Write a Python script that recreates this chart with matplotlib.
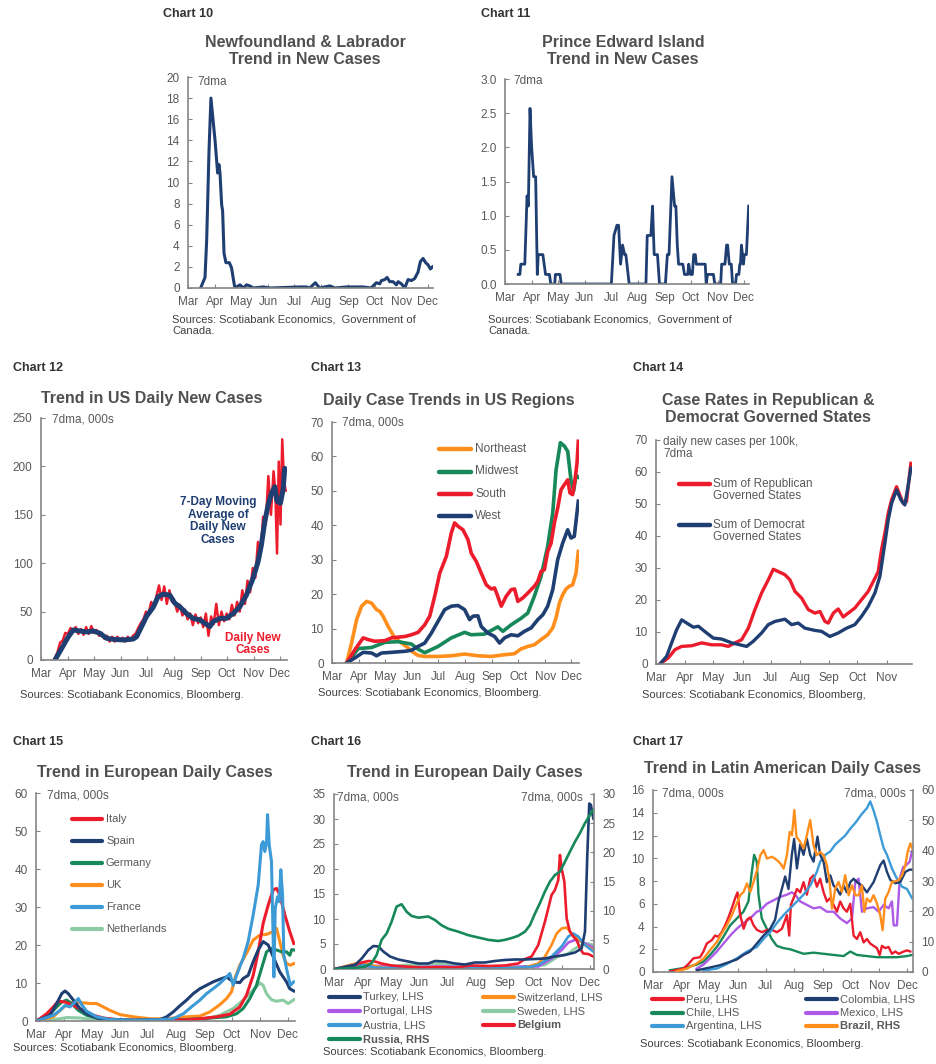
import matplotlib
matplotlib.use('Agg')
import matplotlib.pyplot as plt
from matplotlib.lines import Line2D
import numpy as np

W, H = 936, 1064
plt.rcParams['font.family'] = ['Liberation Sans', 'DejaVu Sans']

# ---------------- common axis data ----------------
MONTH_DAYS = [0, 31, 61, 92, 122, 153, 184, 214, 245, 275]   # days since Mar 1, 2020
MONTH_LABELS = ['Mar', 'Apr', 'May', 'Jun', 'Jul', 'Aug', 'Sep', 'Oct', 'Nov', 'Dec']

# ---------------- Chart 10: Newfoundland & Labrador ----------------
NL_days = [14.5, 19.5, 21.4, 24.1, 26.3, 31, 34, 35.5, 36.7, 38.6, 39.7, 41.3, 43.5, 47.4, 50, 51.9, 53.8,
           59.6, 63.4, 67.2, 71, 74.8, 86.3, 94, 128, 136, 139.7, 146, 151, 162.7, 168.4, 181.7, 200.8, 210,
           216, 220, 221.8, 225.7, 228.3, 231.4, 235.2, 239, 241, 244.7, 248.6, 252.4, 256.2, 260, 263.8,
           266.5, 269.6, 272.6, 275.3, 278, 280.3]
NL_vals = [0, 1, 4.5, 13, 18, 14, 10.9, 11.7, 10.9, 7.9, 7.3, 3.3, 2.4, 2.4, 1.9, 0.9, 0,
           0.3, 0, 0.3, 0.2, 0, 0.1, 0, 0.1, 0.1, 0, 0.5, 0, 0.2, 0, 0.1, 0.1, 0,
           0.5, 0.4, 0.7, 0.8, 1.0, 0.6, 0.6, 0.3, 0.6, 0.4, 0, 0.8, 0.7, 0.9, 1.5,
           2.5, 2.8, 2.4, 2.2, 1.8, 2.0]

# ---------------- Chart 11: Prince Edward Island ----------------
PEI_days = [15.2, 17.1, 18.2, 22.8, 25.4, 26.9, 28.8, 30.7, 33, 35.3, 37.2, 38.3, 43.6, 46.7, 51.2, 52.7,
            57.3, 58, 63.3, 64.8, 122.5, 125.5, 128.9, 130.8, 133.1, 135.4, 137.7, 139.2, 143, 162.3,
            163.8, 168, 169.9, 171.8, 175.6, 177.9, 184.7, 187, 188.9, 192.3, 195.3, 196.8, 198.4, 199.9,
            204.8, 206.7, 210.5, 211.6, 213.5, 215.8, 217.3, 219.2, 220.3, 230.6, 231.7, 233.2, 240, 241.6,
            248.4, 249.5, 253.3, 255.2, 256.4, 258.3, 260.6, 262.1, 265.5, 266.6, 269.3, 270.4, 271.2,
            272.3, 273.5, 274.6, 275.7, 278, 280.6]
PEI_vals = [0.14, 0.14, 0.29, 0.29, 1.29, 1.14, 2.57, 2.0, 1.57, 1.57, 0.14, 0.43, 0.43, 0.14, 0.14, 0,
            0, 0.14, 0.14, 0, 0, 0.71, 0.86, 0.86, 0.29, 0.57, 0.43, 0.43, 0, 0,
            0.71, 0.71, 1.14, 0.43, 0.43, 0, 0, 0.43, 0.43, 1.57, 1.14, 1.14, 0.57, 0.29,
            0.29, 0.14, 0.14, 0.29, 0.14, 0.14, 0.43, 0.43, 0.29, 0.29, 0, 0.14, 0.14, 0,
            0, 0.29, 0.29, 0.57, 0.57, 0.29, 0.29, 0, 0, 0.14, 0.14, 0.29, 0.29,
            0.57, 0.43, 0.29, 0.43, 0.43, 1.14]

# ---------------- Chart 12: US daily new cases (000s) ----------------
US_daily_days = [16, 19, 22, 25, 28, 31, 34, 37, 40, 43, 46, 49, 52, 55, 58, 61, 64, 67, 70, 73, 76, 79, 82,
                 85, 88, 91, 94, 97, 100, 103, 106, 109, 112, 115, 118, 121, 124, 127, 130, 133, 136, 139,
                 142, 145, 148, 151, 154, 157, 160, 163, 166, 169, 172, 175, 178, 181, 184, 187, 190, 193,
                 196, 199, 202, 205, 208, 211, 214, 217, 220, 223, 226, 229, 232, 235, 238, 241, 244, 247,
                 250, 253, 256, 259, 262, 265, 268, 270, 272, 274, 276, 278, 280, 282]
US_daily_vals = [2, 8, 18, 20, 28, 27, 33, 30, 34, 27, 32, 26, 34, 27, 35, 28, 31, 25, 28, 22, 25, 19, 24,
                 19, 24, 20, 23, 19, 24, 20, 25, 27, 33, 38, 42, 50, 48, 60, 55, 66, 77, 62,
                 76, 58, 72, 60, 60, 50, 57, 46, 52, 42, 48, 36, 47, 38, 44, 34, 48, 25,
                 45, 37, 58, 36, 50, 40, 48, 42, 57, 46, 60, 50, 72, 58, 82, 70, 95, 85,
                 122, 110, 148, 140, 190, 150, 195, 175, 110, 205, 140, 228, 185, 175]
US_ma_days = [16.1, 23.8, 31.5, 37.2, 44.9, 52.6, 60.2, 67.9, 75.6, 83.3, 94.8, 106.3, 110.1, 114, 121.6,
              129.3, 135, 140.8, 148.5, 154.3, 160, 167.7, 175.4, 183.1, 188.8, 194.6, 198.4, 206.1, 213.7,
              221.4, 229.1, 236.7, 244.4, 250.2, 254, 257.9, 261.7, 265.5, 269.4, 272, 275.9, 279, 280.9]
US_ma_vals = [0, 12, 24, 31, 30, 29, 30, 27.6, 22.4, 21.4, 20.7, 21.7, 24, 31, 45,
              54.5, 65.5, 68, 67, 58.6, 55, 48, 43, 41.4, 38, 34.5, 39.7, 43, 43,
              48, 55, 67, 84.5, 101.7, 119, 143, 160, 172, 179, 164, 162, 176, 198]

# ---------------- Chart 13: US regions (000s) ----------------
NE_days = [16.8, 22.5, 28.3, 34, 39.8, 45.5, 51.2, 55, 58.9, 64.6, 72.2, 79.9, 87.5, 93.3, 99, 106.6, 121.9,
           137.2, 152.5, 167.8, 183.1, 198.4, 209.8, 217.4, 225.1, 232.7, 240.4, 248, 253.8, 257.6, 261.4,
           265.2, 269.1, 272.9, 276.7, 280.5, 283.2]
NE_vals = [0, 5.8, 12.6, 16.5, 17.9, 17.4, 15.5, 15, 13.5, 10.6, 7.3, 5.8, 4.4, 3.1, 2.2, 1.9, 1.9,
           2.1, 2.6, 2.1, 1.9, 2.4, 2.7, 4.1, 4.8, 5.3, 6.8, 8.2, 10.2, 13.1, 17.4,
           19.8, 21.5, 22.3, 22.7, 26, 32.4]
MW_days = [16.8, 25, 30.2, 45.5, 60.8, 76, 91.3, 99, 106.6, 121.9, 137.2, 152.5, 160.1, 175.4, 190.7, 196.5,
           206, 217.5, 225.1, 232.7, 240.4, 248, 253.8, 257.6, 262.6, 267.2, 271, 274.8, 277.9, 280.5, 283.2]
MW_vals = [0, 2.5, 4.2, 4.5, 6, 6.2, 5.5, 4, 3, 4.8, 7.3, 8.9, 8.2, 8.4, 10.5, 9.2,
           11.1, 13, 14.5, 19.4, 25.2, 33.9, 43.6, 56, 64, 63, 61.5, 53, 50, 54.5, 54]
SO_days = [16.8, 26.4, 35.9, 41.6, 49.3, 60.8, 68.4, 83.7, 91.3, 99, 106.6, 112.4, 118.1, 123.9, 131.5, 137.2,
           141, 144.9, 150.6, 156.4, 160.1, 165.9, 171.6, 177.4, 183.1, 186.9, 190, 194.6, 200.3, 206, 209.9,
           213.7, 219.4, 225.1, 232.7, 236.6, 240.4, 244.2, 248, 251.9, 255.7, 259.5, 263.3, 267.2, 271,
           273.6, 276.7, 279.4, 281.7, 283.2]
SO_vals = [0, 3.9, 7.3, 6.8, 6.3, 6.5, 7.3, 7.7, 8.2, 8.9, 11.1, 13.6, 19.4, 26.1, 31, 37.8,
           40.7, 39.7, 38.7, 35.8, 31.9, 29.5, 26.1, 22.7, 21.5, 21.8, 19.8, 16.5, 19.4, 21.3, 21.5,
           17.9, 18.9, 20.3, 22.3, 23.7, 26.6, 27.1, 32.4, 34.8, 40.7, 45, 50.3, 51.8, 53.2,
           49.4, 48.9, 53.2, 58, 64.4]
WE_days = [16.8, 26.4, 35.9, 45.5, 51.2, 57, 68.4, 83.7, 91.3, 99, 106.6, 114.3, 121.9, 129.6, 137.2, 144.9,
           152.5, 158.2, 162.1, 167.8, 171.6, 179.3, 186.9, 192.7, 198.4, 206, 213.7, 221.3, 229, 236.6,
           242.4, 248, 253.8, 259.5, 265.2, 271, 274.8, 278.6, 283.2]
WE_vals = [0, 1.5, 3.1, 2.9, 2.1, 2.9, 3.1, 3.4, 3.7, 4.8, 5.8, 8.7, 12.1, 15.5, 16.5, 16.7,
           15.5, 12.6, 13.6, 13.7, 10.6, 8.7, 7.7, 5.8, 7.3, 8.2, 7.9, 9.2, 10.2, 12.6,
           14, 16.5, 21.3, 30, 34.8, 38.7, 36.3, 36.8, 47]

# ---------------- Chart 14: Republican vs Democrat governed states ----------------
REP_days = [4.2, 13.1, 20.2, 27.3, 37.9, 48.5, 59.1, 69.7, 76.8, 83.9, 91, 98.1, 105.1, 112.2, 119.3, 124.6,
            129.9, 137, 142.3, 147.6, 154.7, 161.8, 168.8, 174.2, 179.5, 183, 188.4, 193.6, 198.9, 204.2,
            211.3, 218.4, 225.5, 232.6, 236.1, 239.6, 243.2, 246.7, 250.3, 255.6, 259.1, 262.6, 266.2,
            268.7, 270.8]
REP_vals = [0, 1.9, 4.5, 5.5, 5.7, 6.6, 6, 6, 5.5, 6.6, 7.6, 11.2, 17, 22.2, 26.3, 29.6,
            28.9, 27.9, 26.3, 22.7, 20.6, 17, 15.9, 16.4, 13.3, 12.8, 15.9, 17.2, 14.7, 15.9,
            17.5, 20.1, 22.7, 26.8, 28.9, 35.7, 40.9, 47.1, 51.3, 55.4, 52.8, 50.2, 50.8,
            57.5, 62.7]
DEM_days = [4.2, 11.3, 16.6, 21.9, 27.3, 32.6, 39.7, 45, 53.8, 60.9, 69.7, 80.4, 89.2, 96.3, 103.4, 112.2,
            119.3, 126.4, 137, 144.1, 151.1, 158.2, 168.8, 175.9, 184.7, 193.6, 202.5, 211.3, 218.4, 225.5,
            232.6, 237.9, 243.2, 246.7, 250.3, 255.6, 260.2, 264.4, 267.2, 270.8]
DEM_vals = [0, 2.4, 6.6, 10.7, 13.8, 12.8, 11.5, 11.8, 9.7, 8.1, 7.8, 6.6, 6, 5.5, 7.1, 9.7,
            12.3, 13.3, 14, 12.3, 12.8, 11.2, 10.5, 10.2, 8.6, 9.7, 11.2, 12.3, 14.9, 18,
            22.2, 27.4, 37.8, 45, 50.2, 54.4, 51.3, 49.7, 54.4, 61.2]

# ---------------- Chart 15: European daily cases (000s) ----------------
IT_days = [0.7, 11.6, 18.9, 24.4, 31.7, 40.8, 51.7, 62.6, 73.5, 88.1, 106.3, 142.7, 164.5, 179.1, 197.3,
           211.8, 222.7, 230, 237.3, 242.8, 248.2, 253.7, 259.2, 262.8, 266.4, 271.9, 277.3, 281.7]
IT_vals = [0, 1.9, 3.7, 5.2, 5, 4.1, 2.8, 1.5, 0.8, 0.35, 0.2, 0.2, 0.35, 0.6, 1.1,
           1.8, 3.7, 6.8, 12, 18.2, 25.7, 30.5, 34.5, 34.9, 33.2, 27.9, 23.5, 20.4]
ES_days = [0.7, 15.3, 22.6, 28.1, 31.7, 35.3, 40.8, 48, 55.3, 66.2, 80.8, 106.3, 135.4, 142.7, 150, 157.2,
           164.5, 171.8, 179.1, 186.3, 193.6, 200.9, 208.2, 215.5, 222.7, 226.4, 231.8, 237.3, 242.8,
           248.2, 253.7, 259.2, 266.4, 273.7, 277.3, 281.7]
ES_vals = [0, 1.5, 4.6, 7.2, 7.9, 7.2, 5.5, 3.3, 1.9, 0.8, 0.35, 0.2, 0.35, 1.1, 2.4, 4,
           5.5, 7.2, 8.5, 9.4, 10.3, 11, 11.6, 10.3, 10.1, 11.2, 12, 15.6, 18.7,
           20.9, 20, 16.9, 12.9, 10.3, 8.5, 7.9]
DE_days = [0.7, 15.3, 22.6, 28.1, 33.5, 39, 46.3, 55.3, 69.9, 106.3, 142.7, 164.5, 186.3, 208.2, 219.1,
           226.4, 233.6, 240.9, 246.4, 251.9, 257.3, 262.8, 268.3, 273.7, 277.3, 279.5, 281.7]
DE_vals = [0, 1.9, 3.7, 5, 5.5, 4.6, 2.8, 1.5, 0.6, 0.2, 0.3, 0.4, 0.7, 1.1, 1.9,
           3.3, 5.9, 9.4, 13.8, 18.2, 19.1, 18.7, 18.2, 18.2, 17.3, 18.8, 18.7]
UK_days = [0.7, 18.9, 26.2, 33.5, 40.8, 51.7, 59, 66.2, 73.5, 80.8, 91.7, 106.3, 124.5, 142.7, 164.5, 179.1,
           190, 200.9, 208.2, 213.7, 217.3, 222.7, 230, 237.3, 244.6, 251.9, 259.2, 262.8, 266.4, 270,
           273.7, 278, 281.7]
UK_vals = [0, 1.1, 2.8, 4.3, 5, 4.8, 4.6, 4.6, 3.7, 2.8, 1.7, 1.1, 0.6, 0.6, 1.1, 1.3,
           2.4, 4.3, 5.9, 7.7, 11.2, 14.7, 17.8, 21.3, 22.6, 22.8, 23.5, 24.4, 20.9, 17.3,
           15.1, 14.7, 15.1]
FR_days = [0.7, 18.9, 26.2, 31.7, 37.2, 42.6, 46.3, 49.9, 55.3, 66.2, 80.8, 106.3, 135.4, 150, 160.9, 171.8,
           179.1, 186.3, 193.6, 200.9, 208.2, 211.8, 215.5, 219.1, 226.4, 231.8, 237.3, 242.8, 246.4,
           248.2, 250, 251.9, 253, 254.8, 257.3, 259.2, 259.9, 261.4, 263.9, 265.7, 267.5, 269.4, 270.8,
           274.5, 278, 281.7]
FR_vals = [0, 1.5, 2.8, 4.1, 3.7, 5, 5.9, 4.3, 2.6, 1.1, 0.4, 0.2, 0.35, 0.6, 1.9, 4.1,
           5.5, 7.2, 8.5, 9.9, 11.6, 12.5, 9.4, 12, 16.5, 20.9, 27.9, 35.8, 46.4,
           47.2, 44.6, 46.8, 54.3, 46.4, 42, 20.9, 11.6, 29.6, 32.7, 31.4, 39.8, 33.2, 17.3,
           12.9, 9.4, 10.3]
NLD_days = [0.7, 18.9, 33.5, 48, 62.6, 106.3, 164.5, 186.3, 200.9, 215.5, 226.4, 237.3, 244.6, 248.2, 251.9,
            257.3, 262.8, 270, 275.5, 281.7]
NLD_vals = [0, 0.35, 0.9, 0.8, 0.35, 0.1, 0.2, 0.6, 1.5, 3.3, 5.5, 8.1, 10, 9.4, 7.2,
            5.6, 5.2, 5.5, 4.6, 5.6]

# ---------------- Chart 16: European daily cases, LHS/RHS (000s) ----------------
TR_days = [1, 22.6, 29.8, 37, 42.3, 47.7, 53, 60.2, 69.1, 79.9, 90.6, 101.3, 108.5, 119.2, 130, 140.7, 151.5,
           162.2, 172.9, 183.7, 194.4, 205.3, 216, 226.8, 237.5, 248.3, 259, 266.2, 269.8, 272.3, 274.4,
           276.2, 278.7]
TR_vals = [0, 0.8, 2.1, 3.8, 4.6, 4.5, 3.5, 2.5, 1.9, 1.5, 1.1, 1.1, 1.6, 1.5, 1.1, 0.9, 1.3,
           1.3, 1.6, 1.8, 1.9, 1.9, 2, 2.1, 2.5, 2.8, 3.3, 4.1, 7.5, 22.8, 33.1,
           32.8, 30.1]
CH_days = [1, 22.6, 33.3, 44.1, 61.9, 120, 180, 205, 219.6, 226.8, 233.9, 239.3, 244.7, 250.1, 255.4, 262.6,
           269.8, 278.7]
CH_vals = [0, 1.1, 1.1, 0.6, 0.1, 0.05, 0.2, 0.3, 1.1, 2.5, 4.8, 7.1, 8.1, 8.3, 7.1, 6.1,
           4.8, 3.8]
PT_days = [1, 29.8, 58.5, 76.3, 112, 148, 184, 205, 219.6, 233.9, 244.7, 251.9, 259, 266.2, 273.3, 278.7]
PT_vals = [0, 0.5, 0.7, 0.3, 0.5, 0.4, 0.4, 0.5, 0.5, 2.1, 3.8, 5.3, 5.8, 5.5, 4.8, 4.3]
SE_days = [1, 30, 60, 76.3, 101.3, 112, 130, 165.8, 201.7, 226.8, 241.1, 251.9, 259, 266.2, 273.3, 278.7]
SE_vals = [0, 0.2, 0.5, 0.8, 0.9, 1.1, 0.7, 0.3, 0.4, 0.8, 2.5, 3.1, 4.1, 4.8, 5.1, 4.8]
AT_days = [1, 22.6, 33.3, 44.1, 70, 130, 190, 210, 219.6, 233.9, 244.7, 251.9, 257.2, 262.6, 269.8, 278.7]
AT_vals = [0, 0.9, 0.8, 0.3, 0.1, 0.1, 0.2, 0.4, 0.8, 2.5, 4.5, 6.5, 7.1, 6.5, 4.8, 3.5]
BE_days = [1, 22.6, 29.8, 37, 44.1, 51.2, 61.9, 76.3, 94.2, 112, 130, 147.9, 165.8, 183.7, 198.1, 205.3,
           212.4, 219.6, 226.8, 233.9, 237.5, 241.1, 242.9, 244.7, 247.6, 250.1, 253.6, 257.2, 260.8,
           264.4, 268, 273.3, 278.7]
BE_vals = [0, 0.8, 1.3, 1.6, 1.5, 1.1, 0.7, 0.5, 0.3, 0.4, 0.3, 0.7, 0.6, 0.7, 1.1, 2,
           2.5, 4.8, 9.5, 14.8, 15.8, 17.8, 22.8, 20.1, 17.5, 10.1, 7.5, 6.5, 5.8,
           4.1, 3.1, 3, 2.5]
RU_days = [1, 22.6, 33.3, 40.4, 45.8, 51.2, 56.6, 61.9, 67.3, 72.7, 78.1, 83.4, 90.6, 101.3, 108.5, 115.6,
           122.8, 133.6, 144.3, 155.1, 165.8, 176.6, 183.7, 190.9, 198.1, 205.3, 210.6, 216, 221.4, 226.8,
           232.2, 237.5, 242.9, 248.3, 253.6, 259, 264.4, 269.8, 275.1, 278.7]
RU_vals = [0, 0.2, 0.4, 1, 2.4, 5, 6.1, 8.1, 10.7, 11.1, 9.8, 9.1, 8.8, 9, 8.4, 7.5,
           6.9, 6.4, 5.8, 5.4, 5, 4.8, 5, 5.3, 5.7, 6.4, 7.5, 9.5, 11.3, 13.3,
           15, 16.1, 16.7, 18.4, 20.1, 21.8, 23.3, 25, 26.4, 27.3]

# ---------------- Chart 17: Latin American daily cases (000s) ----------------
PE_days = [18.4, 32.9, 38.3, 43.7, 50.9, 54.6, 58.2, 63.6, 67.2, 70.8, 74.4, 78.1, 81.7, 85.3, 89, 91.5,
           94.4, 98.1, 101.7, 105.3, 108.9, 112.6, 118, 123.4, 128.8, 134.2, 139.6, 145, 147.5, 149.3,
           152.2, 155.8, 159.4, 163, 166.6, 170.2, 173.8, 177.4, 181, 184.7, 188.3, 191.9, 195.5, 199.1,
           202.7, 206.3, 209.9, 213.6, 217.2, 220.8, 224.4, 228, 231.6, 235.2, 238.8, 242.5, 245.4,
           247.9, 251.5, 255.1, 258.7, 262.3, 266, 271.4, 275, 278.6]
PE_vals = [0.05, 0.3, 0.7, 1.2, 1.3, 1.8, 2.5, 2.8, 3.2, 3.1, 3.5, 4.1, 4.8, 5.6, 6.5, 7,
           5, 3.8, 4.6, 4.8, 4.1, 3.7, 3.5, 3.7, 3.7, 3.5, 3.8, 5, 3.2, 5.9,
           6.5, 7.3, 7, 7.9, 6.8, 8.2, 8.5, 7.5, 8.2, 7, 6.2, 6.5, 5.9, 5.3,
           6.2, 5.6, 5.3, 6, 3.2, 2.9, 3.5, 2.6, 2.9, 2.5, 2.3, 2.1, 1.5,
           2.3, 2.1, 2.2, 1.6, 1.8, 1.6, 1.8, 1.9, 1.8]
CO_days = [47.3, 61.8, 72.6, 83.5, 90.7, 97.9, 105.1, 112.4, 119.6, 126.8, 132.2, 135.8, 139.5, 143.1, 146.7,
           150.3, 152.8, 155.8, 159.4, 163, 166.6, 170.2, 173.8, 178.1, 181, 184.7, 188.3, 191.9, 195.5,
           199.1, 202.7, 206.3, 209.9, 213.6, 217.2, 220.8, 226.2, 231.6, 238.8, 246.1, 249.7, 253.3,
           256.9, 262.3, 267.7, 273.2, 277.9, 280.4]
CO_vals = [0.15, 0.4, 0.6, 0.9, 1.1, 1.5, 1.8, 2.5, 3.2, 3.8, 4.6, 6.2, 7.3, 8.4, 7.3,
           10.3, 11.7, 9.1, 11.2, 10.3, 11.7, 10.3, 9.7, 11.9, 10.3, 9.7, 7.9, 8.5, 7.6,
           7.3, 6.8, 7.6, 7, 7.9, 8.2, 7.9, 7.6, 7, 7.9, 9.4, 9.8, 8.8,
           8.1, 7.8, 7.9, 8.8, 9, 9]
CL_days = [18.4, 32.9, 47.3, 54.6, 61.8, 69.1, 76.3, 83.5, 90.7, 97.9, 103.3, 107, 109.5, 112.4, 114.2,
           117.8, 123.2, 128.6, 134, 141.3, 148.5, 155.8, 163, 173.8, 184.7, 195.5, 206.3, 213.6, 220.8,
           231.6, 242.5, 253.3, 264.1, 275, 280.4]
CL_vals = [0.15, 0.35, 0.65, 0.9, 1.5, 2.2, 3.1, 4.1, 4.7, 5.3, 6.2, 8.8, 10.3, 9.7, 6.8,
           4.7, 3.8, 2.9, 2.3, 2.1, 2, 1.8, 1.6, 1.7, 1.6, 1.5, 1.4, 1.8, 1.5,
           1.4, 1.3, 1.3, 1.3, 1.4, 1.5]
MX_days = [47.3, 54.6, 61.8, 69.1, 76.3, 83.5, 90.7, 97.9, 105.1, 112.4, 116, 123.2, 130.4, 137.7, 145, 150.3,
           154, 159.4, 166.6, 173.8, 181, 188.3, 195.5, 202.7, 209.9, 215.4, 219, 222.6, 226.2, 231.6,
           238.8, 244.3, 249.7, 255.1, 258.7, 260.6, 264.1, 267.1, 270.7, 274.3, 277.9, 280.4]
MX_vals = [0.3, 0.65, 1.2, 1.8, 2.5, 3.2, 3.8, 4.3, 4.7, 5.3, 5.4, 6, 6.3, 6.6, 6.8, 7,
           6.8, 6.2, 5.9, 5.6, 5.7, 5.3, 5.3, 4.7, 4.3, 4.7, 7.9, 8.2, 5.3, 5.6,
           5.7, 5.3, 5.9, 5.6, 6.2, 4.1, 4.1, 8.2, 9.2, 9.4, 9.7, 10.6]
AR_days = [54.6, 69.1, 79.9, 90.7, 101.7, 112.4, 119.6, 126.8, 134, 141.3, 148.5, 155.8, 163, 170.2, 177.4,
           181, 186.5, 191.9, 197.3, 202.7, 208.1, 213.6, 219, 222.6, 226.2, 231.6, 235.2, 238.8, 242.5,
           246.1, 249.7, 253.3, 258.7, 264.1, 269.6, 275, 280.4]
AR_vals = [0.15, 0.3, 0.7, 1.2, 1.8, 2.2, 2.9, 3.5, 4.3, 5, 5.6, 6.2, 6.8, 7.6, 8.8,
           9.7, 10.3, 10.6, 11.2, 11.6, 12, 12.6, 13.1, 13.5, 13.9, 14.4, 15, 14.2, 13.2,
           12, 10.9, 10.3, 9.1, 8.2, 7.5, 7.3, 6.5]
BR_days = [25.7, 36.6, 47.3, 54.6, 61.8, 69.1, 74.4, 79.9, 85.3, 90.7, 94.4, 98.1, 101.7, 105.3, 108.9,
           112.6, 116.2, 119.8, 123.4, 128.8, 134.2, 137.8, 141.5, 145, 148, 150.5, 153, 155.3, 159.4,
           163, 166.6, 170.2, 173.8, 177.4, 181, 184.7, 188.3, 191.2, 193.8, 197.3, 200.9, 204.5, 208.1,
           211.8, 215.4, 219, 222.6, 226.2, 228.8, 231.6, 235.2, 238.8, 242.5, 246.1, 248.6, 251.5,
           255.1, 258.7, 262.3, 266, 269.6, 273.2, 275.7, 278.6, 280.8]
BR_vals = [0.3, 1.1, 2.8, 4.4, 7.2, 9.9, 12.7, 15.4, 18.7, 22.6, 25.3, 26.4, 29.2, 26.4, 29.7,
           33.6, 38.5, 40.2, 37.4, 38, 36.9, 35.8, 34.1, 38.5, 46.2, 45.1, 53.4, 44.6, 42.9,
           40.7, 45.1, 50.1, 41.8, 38.5, 39.6, 38.5, 35.2, 29.7, 20.9, 27.5, 29.7, 26.4, 31.9,
           25.3, 28.6, 25.3, 25.3, 28.6, 19.8, 24.2, 23.1, 25.3, 22.6, 18.7, 13.8, 24.2,
           26.4, 29.7, 29.9, 30.3, 31.9, 35.2, 39.6, 42.4, 40.7]

# ---------------- styling ----------------
NAVY = '#1f3e72'
RED = '#ec1c2c'
ORANGE = '#ff8e1c'
GREEN = '#16885a'
LBLUE = '#3c9ad7'
LGREEN = '#8ccba3'
PURPLE = '#ad5ae6'
AXC = '#858585'
TXT = '#595959'
TTL = '#505050'
SRC = '#404040'

fig = plt.figure(figsize=(W / 100, H / 100), dpi=100)
fig.patch.set_facecolor('white')


def add_ax(l, t, r, b):
    return fig.add_axes([l / W, 1 - b / H, (r - l) / W, (b - t) / H])


def ftext(x, y, s, **kw):
    kw.setdefault('va', 'center')
    fig.text(x / W, 1 - y / H, s, **kw)


def legline(x1, x2, y, color, lw=3.0):
    fig.add_artist(Line2D([x1 / W, x2 / W], [1 - y / H, 1 - y / H], color=color, lw=lw,
                          solid_capstyle='round', transform=fig.transFigure))


def style(ax, xmax, ymax, ystep, nmonths=10, fmt='{:g}'):
    ax.set_xlim(0, xmax)
    ax.set_ylim(0, ymax)
    for s in ['top', 'right']:
        ax.spines[s].set_visible(False)
    for s in ['left', 'bottom']:
        ax.spines[s].set_color(AXC)
        ax.spines[s].set_linewidth(1.2)
    ax.set_xticks(MONTH_DAYS[:nmonths])
    ax.set_xticklabels(MONTH_LABELS[:nmonths])
    yt = np.arange(0, ymax + ystep / 2, ystep)
    ax.set_yticks(yt)
    ax.set_yticklabels([fmt.format(v) for v in yt])
    ax.tick_params(direction='in', length=3, color=AXC, labelsize=8.5, labelcolor=TXT, pad=6)
    ax.patch.set_alpha(0)


def chart_label(x, y, s):
    ftext(x, y, s, ha='left', fontsize=9, fontweight='bold', color='#333333',
          family=['Liberation Sans Narrow', 'Liberation Sans'])


def title(x, y, s):
    ftext(x, y, s, ha='center', fontsize=11.5, fontweight='bold', color=TTL, linespacing=1.1)


def source(x, y, s):
    ftext(x, y, s, ha='left', fontsize=8, color=SRC, linespacing=1.15)


TSIZE = 8.5

# ---- Chart 10 ----
chart_label(163, 14, 'Chart 10')
title(305, 51, 'Newfoundland & Labrador\nTrend in New Cases')
ax = add_ax(188, 77, 433, 288)
style(ax, 281, 20, 2)
ax.plot(NL_days, NL_vals, color=NAVY, lw=2.2, solid_joinstyle='round')
ftext(197, 82, '7dma', ha='left', fontsize=TSIZE, color=TXT)
source(172, 325, 'Sources: Scotiabank Economics,  Government of\nCanada.')

# ---- Chart 11 ----
chart_label(481, 14, 'Chart 11')
title(623, 51, 'Prince Edward Island\nTrend in New Cases')
ax = add_ax(505, 79, 749, 284)
style(ax, 281, 3.0, 0.5, fmt='{:.1f}')
ax.plot(PEI_days, PEI_vals, color=NAVY, lw=2.0, solid_joinstyle='round')
ftext(513, 81, '7dma', ha='left', fontsize=TSIZE, color=TXT)
source(488, 325, 'Sources: Scotiabank Economics,  Government of\nCanada.')

# ---- Chart 12 ----
chart_label(13, 368, 'Chart 12')
title(152, 399, 'Trend in US Daily New Cases')
ax = add_ax(41, 418, 287, 660)
style(ax, 283.5, 250, 50)
ax.plot(US_daily_days, US_daily_vals, color=RED, lw=1.8)
ax.plot(US_ma_days, US_ma_vals, color=NAVY, lw=3.6, solid_capstyle='round', solid_joinstyle='round')
ftext(52, 420, '7dma, 000s', ha='left', fontsize=TSIZE, color=TXT)
ftext(218, 521, '7-Day Moving\nAverage of\nDaily New\nCases', ha='center', fontsize=8.5,
      fontweight='bold', color=NAVY, linespacing=1.05)
ftext(253, 644, 'Daily New\nCases', ha='center', fontsize=8.5, fontweight='bold', color=RED,
      linespacing=1.05)
source(20, 695, 'Sources: Scotiabank Economics, Bloomberg.')

# ---- Chart 13 ----
chart_label(311, 368, 'Chart 13')
title(449, 400, 'Daily Case Trends in US Regions')
ax = add_ax(332, 422, 579, 663)
style(ax, 284, 70, 10)
ax.plot(NE_days, NE_vals, color=ORANGE, lw=2.6, solid_joinstyle='round')
ax.plot(MW_days, MW_vals, color=GREEN, lw=2.6, solid_joinstyle='round')
ax.plot(SO_days, SO_vals, color=RED, lw=2.6, solid_joinstyle='round')
ax.plot(WE_days, WE_vals, color=NAVY, lw=2.6, solid_joinstyle='round')
ftext(342, 423, '7dma, 000s', ha='left', fontsize=TSIZE, color=TXT)
for i, (lab, col) in enumerate([('Northeast', ORANGE), ('Midwest', GREEN), ('South', RED), ('West', NAVY)]):
    y = 449 + i * 22.5
    legline(439, 471, y, col, 3.2)
    ftext(475, y, lab, ha='left', fontsize=8.5, color=TXT)
source(318, 693, 'Sources: Scotiabank Economics, Bloomberg.')

# ---- Chart 14 ----
chart_label(633, 368, 'Chart 14')
title(768, 409, 'Case Rates in Republican &\nDemocrat Governed States')
ax = add_ax(656, 440, 912, 664)
style(ax, 272, 70, 10, nmonths=9)
ax.plot(REP_days, REP_vals, color=RED, lw=2.4, solid_joinstyle='round')
ax.plot(DEM_days, DEM_vals, color=NAVY, lw=2.4, solid_joinstyle='round')
ftext(663, 448, 'daily new cases per 100k,\n7dma', ha='left', fontsize=TSIZE, color=TXT, linespacing=1.0)
legline(679, 710, 484, RED, 3.2)
ftext(713, 490, 'Sum of Republican\nGoverned States', ha='left', fontsize=8.5, color=TXT, linespacing=1.0)
legline(679, 710, 525, NAVY, 3.2)
ftext(713, 531, 'Sum of Democrat\nGoverned States', ha='left', fontsize=8.5, color=TXT, linespacing=1.0)
source(642, 695, 'Sources: Scotiabank Economics, Bloomberg,')

# ---- Chart 15 ----
chart_label(13, 742, 'Chart 15')
title(155, 772, 'Trend in European Daily Cases')
ax = add_ax(36, 793, 295, 1021)
style(ax, 283, 60, 10)
ax.plot(NLD_days, NLD_vals, color=LGREEN, lw=2.2, solid_joinstyle='round')
ax.plot(UK_days, UK_vals, color=ORANGE, lw=2.2, solid_joinstyle='round')
ax.plot(DE_days, DE_vals, color=GREEN, lw=2.2, solid_joinstyle='round')
ax.plot(IT_days, IT_vals, color=RED, lw=2.2, solid_joinstyle='round')
ax.plot(ES_days, ES_vals, color=NAVY, lw=2.2, solid_joinstyle='round')
ax.plot(FR_days, FR_vals, color=LBLUE, lw=2.2, solid_joinstyle='round')
ftext(47, 796, '7dma, 000s', ha='left', fontsize=TSIZE, color=TXT)
for i, (lab, col) in enumerate([('Italy', RED), ('Spain', NAVY), ('Germany', GREEN), ('UK', ORANGE),
                                ('France', LBLUE), ('Netherlands', LGREEN)]):
    y = 819 + i * 21.9
    legline(72, 102, y, col, 3.0)
    ftext(106, y, lab, ha='left', fontsize=8, color=TXT)
source(13, 1048, 'Sources: Scotiabank Economics, Bloomberg.')

# ---- Chart 16 ----
chart_label(311, 742, 'Chart 16')
title(465, 773, 'Trend in European Daily Cases')
ax = add_ax(334, 794, 594, 969)
style(ax, 279.5, 35, 5)
ax2 = ax.twinx()
ax2.set_ylim(0, 30)
ax2.set_yticks(np.arange(0, 31, 5))
for s in ['top', 'left', 'bottom']:
    ax2.spines[s].set_visible(False)
ax2.spines['right'].set_color(AXC)
ax2.spines['right'].set_linewidth(1.2)
ax2.tick_params(direction='in', length=3, color=AXC, labelsize=8.5, labelcolor=TXT, pad=6)
ax.plot(SE_days, SE_vals, color=LGREEN, lw=1.9, solid_joinstyle='round')
ax.plot(PT_days, PT_vals, color=PURPLE, lw=1.9, solid_joinstyle='round')
ax.plot(CH_days, CH_vals, color=ORANGE, lw=1.9, solid_joinstyle='round')
ax.plot(AT_days, AT_vals, color=LBLUE, lw=1.9, solid_joinstyle='round')
ax.plot(BE_days, BE_vals, color=RED, lw=1.9, solid_joinstyle='round')
ax.plot(TR_days, TR_vals, color=NAVY, lw=1.9, solid_joinstyle='round')
ax2.plot(RU_days, RU_vals, color=GREEN, lw=1.9, solid_joinstyle='round')
ftext(337, 797, '7dma, 000s', ha='left', fontsize=TSIZE, color=TXT)
ftext(583, 797, '7dma, 000s', ha='right', fontsize=TSIZE, color=TXT)
leg16 = [('Turkey, LHS', NAVY, 'normal'), ('Switzerland, LHS', ORANGE, 'normal'),
         ('Portugal, LHS', PURPLE, 'normal'), ('Sweden, LHS', LGREEN, 'normal'),
         ('Austria, LHS', LBLUE, 'normal'), ('Belgium', RED, 'bold'),
         ('Russia, RHS', GREEN, 'bold')]
for i, (lab, col, fw) in enumerate(leg16):
    row, colm = divmod(i, 2)
    y = 997 + row * 14
    x1 = 329 if colm == 0 else 483
    legline(x1, x1 + 31, y, col, 3.0)
    ftext(x1 + 34, y, lab, ha='left', fontsize=8, color=TXT, fontweight=fw)
source(323, 1052, 'Sources: Scotiabank Economics, Bloomberg.')

# ---- Chart 17 ----
chart_label(633, 742, 'Chart 17')
title(783, 769, 'Trend in Latin American Daily Cases')
ax = add_ax(653, 790, 913, 972)
style(ax, 281.5, 16, 2)
ax2 = ax.twinx()
ax2.set_ylim(0, 60)
ax2.set_yticks(np.arange(0, 61, 10))
for s in ['top', 'left', 'bottom']:
    ax2.spines[s].set_visible(False)
ax2.spines['right'].set_color(AXC)
ax2.spines['right'].set_linewidth(1.2)
ax2.tick_params(direction='in', length=3, color=AXC, labelsize=8.5, labelcolor=TXT, pad=6)
ax.plot(CL_days, CL_vals, color=GREEN, lw=1.7, solid_joinstyle='round')
ax.plot(MX_days, MX_vals, color=PURPLE, lw=1.7, solid_joinstyle='round')
ax.plot(PE_days, PE_vals, color=RED, lw=1.7, solid_joinstyle='round')
ax.plot(AR_days, AR_vals, color=LBLUE, lw=1.7, solid_joinstyle='round')
ax.plot(CO_days, CO_vals, color=NAVY, lw=1.7, solid_joinstyle='round')
ax2.plot(BR_days, BR_vals, color=ORANGE, lw=1.7, solid_joinstyle='round')
ftext(662, 794, '7dma, 000s', ha='left', fontsize=TSIZE, color=TXT)
ftext(906, 794, '7dma, 000s', ha='right', fontsize=TSIZE, color=TXT)
leg17 = [('Peru, LHS', RED, 'normal'), ('Colombia, LHS', NAVY, 'normal'),
         ('Chile, LHS', GREEN, 'normal'), ('Mexico, LHS', PURPLE, 'normal'),
         ('Argentina, LHS', LBLUE, 'normal'), ('Brazil, RHS', ORANGE, 'bold')]
for i, (lab, col, fw) in enumerate(leg17):
    row, colm = divmod(i, 2)
    y = 999 + row * 13.5
    x1 = 652 if colm == 0 else 806
    legline(x1, x1 + 31, y, col, 3.0)
    ftext(x1 + 34, y, lab, ha='left', fontsize=8, color=TXT, fontweight=fw)
source(640, 1044, 'Sources: Scotiabank Economics, Bloomberg.')

fig.savefig('out.png', dpi=100, facecolor='white')
